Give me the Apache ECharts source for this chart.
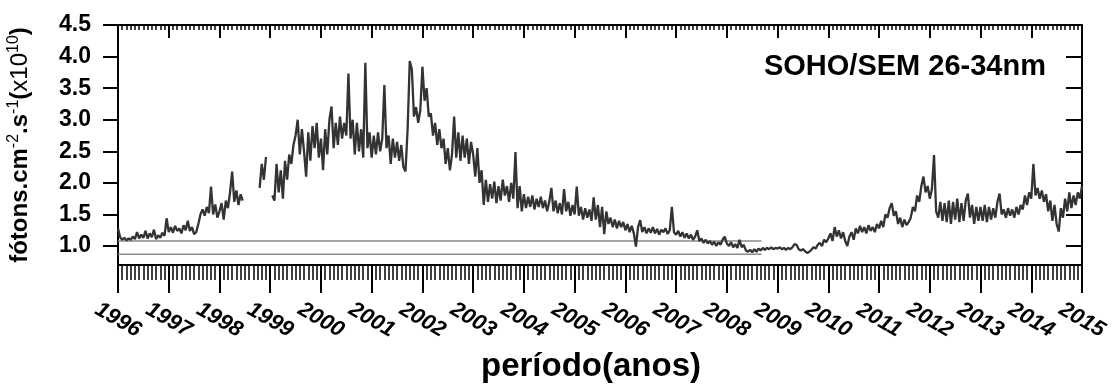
<!DOCTYPE html>
<html>
<head>
<meta charset="utf-8">
<script src="https://cdn.jsdelivr.net/npm/echarts@6/dist/echarts.min.js"></script>
<style>
  html, body { margin: 0; padding: 0; background: #fff; }
  #chart { width: 1114px; height: 385px; }
</style>
</head>
<body>
<div id="chart"></div>
<script>
// ---- data (half-month steps, null = data gap) ----
const startYear = 1996;
const stepsPerYear = 24;
const flux1996 = [1.28,1.14,1.10,1.13,1.09,1.12,1.10,1.15,1.11,1.22,1.12,1.18,1.13,1.24,1.12,1.20,1.14,1.26,1.11,1.17,1.13,1.21,1.16,1.44];
const flux1997 = [1.22,1.30,1.21,1.32,1.24,1.28,1.20,1.33,1.25,1.40,1.24,1.30,1.19,1.22,1.35,1.50,1.58,1.48,1.62,1.52,1.94,1.50,1.66,1.45];
const flux1998 = [1.55,1.68,1.42,1.72,1.60,1.85,2.18,1.70,1.88,1.65,1.82,1.72,null,null,null,null,null,null,null,1.92,2.30,2.05,2.41,null];
const flux1999 = [null,1.80,1.72,2.30,1.85,2.20,1.75,2.35,2.05,2.45,2.30,2.60,2.75,3.00,2.45,2.85,2.50,2.10,2.80,2.35,2.90,2.55,2.95,2.40];
const flux2000 = [2.70,2.20,2.85,2.45,3.00,3.21,2.55,2.95,2.60,3.05,2.70,2.95,2.75,3.73,2.70,3.00,2.45,2.95,2.50,2.85,2.40,3.90,2.55,2.80];
const flux2001 = [2.40,2.75,2.45,2.80,2.50,2.70,3.55,2.55,2.75,2.30,2.70,2.40,2.65,2.35,2.60,2.25,2.18,2.85,3.93,3.80,3.05,3.20,2.95,3.15];
const flux2002 = [3.84,3.30,3.50,3.05,3.10,2.75,2.95,2.60,2.85,2.55,2.70,2.30,2.55,2.20,2.45,3.05,2.40,2.80,2.35,2.75,2.40,2.70,2.30,2.65];
const flux2003 = [2.45,2.10,2.55,2.00,2.20,1.65,2.05,1.70,1.98,1.75,2.02,1.68,1.95,1.72,2.05,1.80,1.95,1.70,2.00,1.75,2.49,1.60,1.95,1.55];
const flux2004 = [1.82,1.60,1.78,1.62,1.80,1.58,1.75,1.62,1.78,1.60,1.72,1.55,1.70,1.92,1.55,1.72,1.52,1.68,1.50,1.90,1.55,1.70,1.48,1.65];
const flux2005 = [1.50,1.94,1.48,1.62,1.42,1.60,1.45,1.58,1.40,1.77,1.42,1.65,1.30,1.62,1.19,1.55,1.35,1.45,1.30,1.42,1.28,1.40,1.30,1.38];
const flux2006 = [1.25,1.35,1.22,1.32,1.20,0.99,1.30,1.41,1.22,1.30,1.20,1.28,1.21,1.30,1.20,1.27,1.18,1.26,1.22,1.28,1.19,1.25,1.62,1.22];
const flux2007 = [1.18,1.24,1.15,1.22,1.13,1.20,1.12,1.18,1.10,1.15,1.25,1.08,1.12,1.05,1.10,1.04,1.08,1.02,1.07,1.00,1.06,1.02,1.10,1.15];
const flux2008 = [1.04,1.00,1.06,0.98,1.03,0.97,1.10,0.98,1.02,0.93,0.91,0.94,0.90,0.95,0.91,0.96,0.93,0.97,0.94,0.97,0.95,0.98,0.95,0.97];
const flux2009 = [0.96,0.98,0.95,0.97,0.94,0.97,0.95,0.98,1.03,1.02,0.95,0.93,0.95,0.92,0.89,0.91,0.94,0.98,0.96,1.02,1.05,1.00,1.10,1.06];
const flux2010 = [1.12,1.20,1.08,1.30,1.15,1.25,1.12,1.22,1.08,1.00,1.15,1.22,1.10,1.28,1.20,1.32,1.22,1.30,1.20,1.33,1.24,1.30,1.22,1.35];
const flux2011 = [1.28,1.40,1.30,1.50,1.45,1.60,1.68,1.48,1.55,1.35,1.45,1.30,1.42,1.33,1.38,1.45,1.62,1.55,1.80,1.70,1.95,2.10,1.85,1.95];
const flux2012 = [1.75,1.90,2.44,1.55,1.45,1.70,1.40,1.68,1.38,1.72,1.35,1.70,1.42,1.75,1.38,1.68,1.40,1.72,1.83,1.45,1.65,1.35,1.62,1.40];
const flux2013 = [1.62,1.40,1.65,1.38,1.62,1.42,1.60,1.45,1.70,1.83,1.50,1.58,1.45,1.60,1.48,1.58,1.45,1.62,1.50,1.65,1.58,1.80,1.65,1.85];
const flux2014 = [1.75,2.30,1.80,1.92,1.75,1.88,1.70,1.82,1.55,1.72,1.40,1.65,1.35,1.23,1.60,1.45,1.75,1.55,1.85,1.60,1.80,1.65,1.85,1.75];
const flux2015 = [1.95];

// reference levels (grey horizontal lines)
const refYears = [1996, 2008.68];
const refLevelHigh = 1.08;
const refLevelLow = 0.87;

// axis ticks / labels
const yTicks = [1.0, 1.5, 2.0, 2.5, 3.0, 3.5, 4.0, 4.5];
const yMin = 0.7, yMax = 4.5;
const xMin = 1996, xMax = 2015;

const allFlux = [].concat(flux1996, flux1997, flux1998, flux1999, flux2000, flux2001, flux2002,
  flux2003, flux2004, flux2005, flux2006, flux2007, flux2008, flux2009, flux2010, flux2011,
  flux2012, flux2013, flux2014, flux2015);
const seriesData = allFlux.map((v, i) => [startYear + i / stepsPerYear, v]);

const chart = echarts.init(document.getElementById('chart'), null, { renderer: 'canvas' });
const black = '#000';
const font = 'Liberation Sans';

chart.setOption({
  animation: false,
  backgroundColor: '#fff',
  title: {
    text: 'SOHO/SEM 26-34nm',
    right: 63,
    top: 47,
    textStyle: { fontFamily: font, fontWeight: 'bold', fontSize: 29, color: black }
  },
  grid: { left: 118, right: 32, top: 25, bottom: 120, containLabel: false, outerBoundsMode: 'none' },
  xAxis: [
    {
      type: 'value', position: 'bottom', min: xMin, max: xMax, interval: 1,
      name: 'período(anos)', nameLocation: 'middle', nameGap: 85,
      nameTextStyle: { fontFamily: font, fontWeight: 'bold', fontSize: 33, color: black, padding: [0, 18, 0, 0] },
      axisLine: { show: true, onZero: false, lineStyle: { color: black, width: 2 } },
      axisTick: { show: true, inside: false, length: 28, lineStyle: { color: black, width: 2 } },
      minorTick: { show: true, splitNumber: 12, length: 15, lineStyle: { color: black, width: 1.5 } },
      splitLine: { show: false },
      axisLabel: {
        show: true, rotate: -30, margin: 55, align: 'center', verticalAlign: 'middle',
        fontFamily: font, fontWeight: 'bold', fontStyle: 'italic', fontSize: 22, color: black,
        formatter: v => String(Math.round(v))
      }
    },
    {
      type: 'value', position: 'top', min: xMin, max: xMax, interval: 1,
      axisLine: { show: true, onZero: false, lineStyle: { color: black, width: 2 } },
      axisTick: { show: true, inside: true, length: 13, lineStyle: { color: black, width: 2 } },
      minorTick: { show: true, splitNumber: 12, length: 5, lineStyle: { color: black, width: 1.5 } },
      splitLine: { show: false },
      axisLabel: { show: false }
    }
  ],
  yAxis: [
    {
      type: 'value', position: 'left', min: yMin, max: yMax,
      name: '{b|fótons.cm}{s|-2}{b|.s}{s|-1}{b|(}{r|x10}{s|10}{b|)}',
      nameLocation: 'middle', nameRotate: 90, nameGap: 86,
      nameTextStyle: {
        color: black,
        rich: {
          b: { fontFamily: font, fontWeight: 'bold', fontSize: 24, color: black, lineHeight: 26, verticalAlign: 'bottom' },
          r: { fontFamily: font, fontWeight: 'normal', fontSize: 24, color: black, lineHeight: 26, verticalAlign: 'bottom' },
          s: { fontFamily: font, fontWeight: 'normal', fontSize: 16, color: black, lineHeight: 16, verticalAlign: 'top' }
        }
      },
      axisLine: { show: true, onZero: false, lineStyle: { color: black, width: 2 } },
      axisTick: { show: true, inside: false, length: 15, customValues: yTicks, lineStyle: { color: black, width: 2 } },
      splitLine: { show: false },
      axisLabel: {
        show: true, margin: 27, customValues: yTicks,
        fontFamily: font, fontWeight: 'bold', fontSize: 23, color: black,
        formatter: v => v.toFixed(1)
      }
    },
    {
      type: 'value', position: 'right', min: yMin, max: yMax,
      axisLine: { show: true, onZero: false, lineStyle: { color: black, width: 2 } },
      axisTick: { show: true, inside: true, length: 16, customValues: yTicks, lineStyle: { color: black, width: 2 } },
      splitLine: { show: false },
      axisLabel: { show: false }
    }
  ],
  series: [
    {
      name: 'ref high', type: 'line', xAxisIndex: 0, yAxisIndex: 0, showSymbol: false, silent: true,
      data: refYears.map(x => [x, refLevelHigh]),
      lineStyle: { color: '#8a8a8a', width: 1.3 }, z: 1
    },
    {
      name: 'ref low', type: 'line', xAxisIndex: 0, yAxisIndex: 0, showSymbol: false, silent: true,
      data: refYears.map(x => [x, refLevelLow]),
      lineStyle: { color: '#8a8a8a', width: 1.3 }, z: 1
    },
    {
      name: 'SOHO/SEM 26-34nm', type: 'line', xAxisIndex: 0, yAxisIndex: 0,
      showSymbol: false, connectNulls: false, sampling: null,
      data: seriesData,
      lineStyle: { color: '#333333', width: 2.3 }, z: 2
    }
  ]
});
</script>
</body>
</html>
